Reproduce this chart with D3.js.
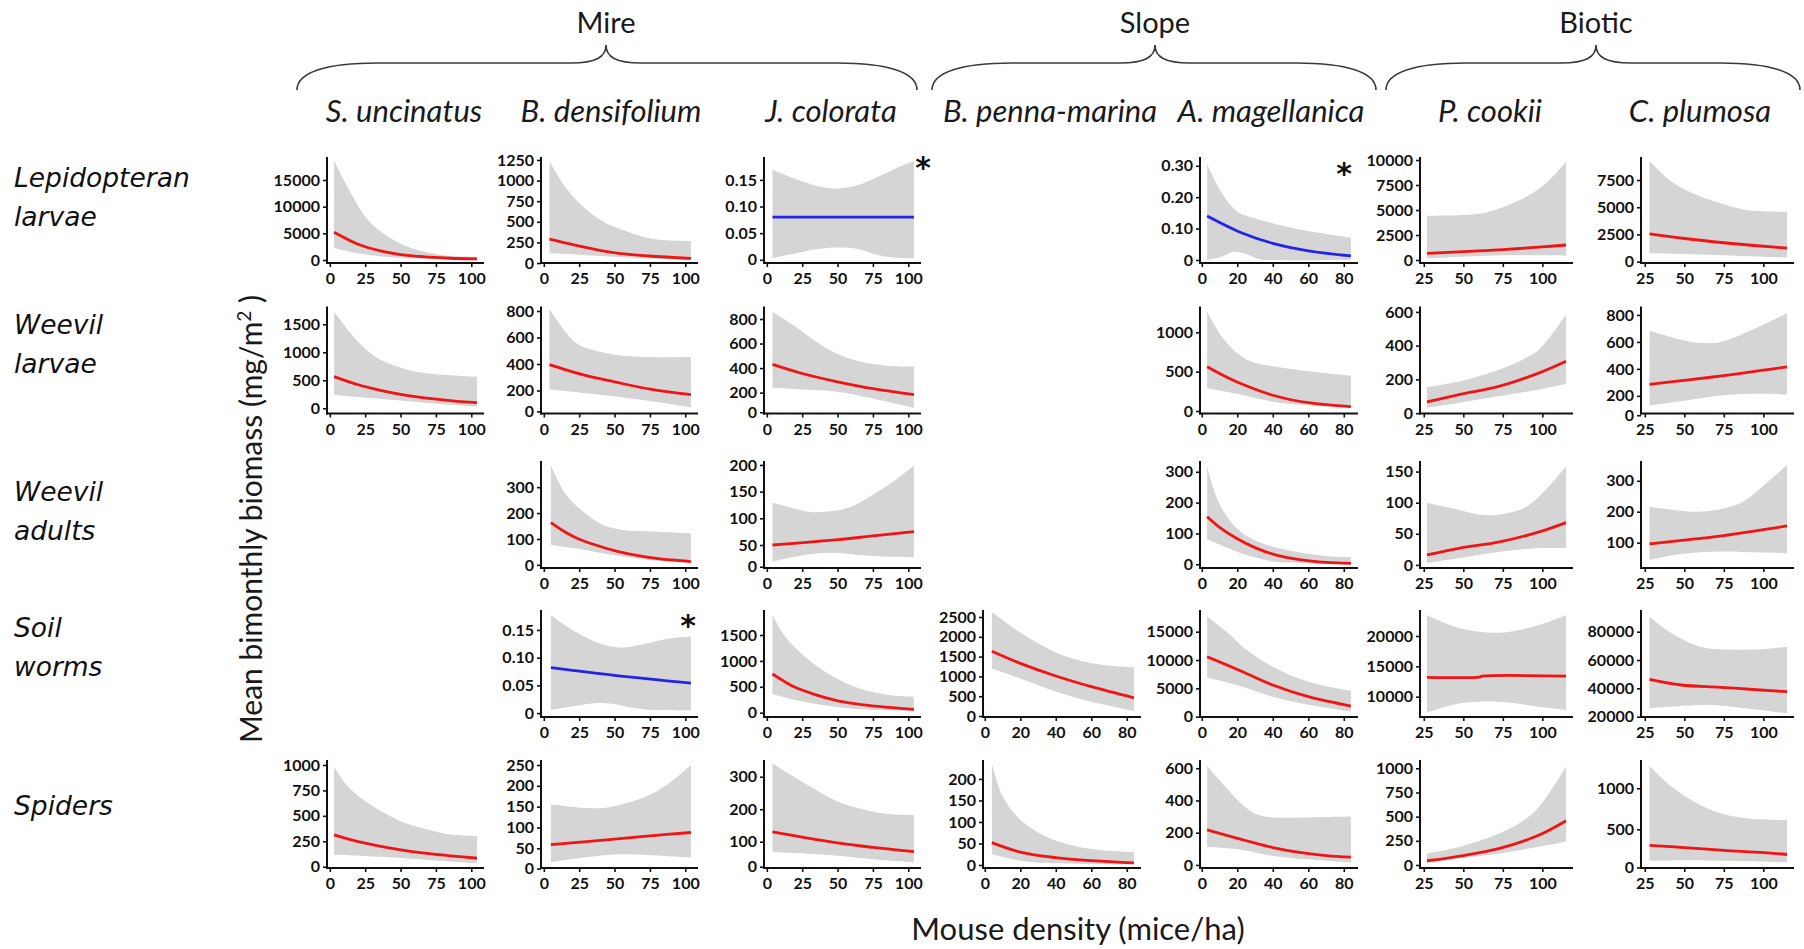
<!DOCTYPE html>
<html>
<head>
<meta charset="utf-8">
<script src="https://cdn.jsdelivr.net/npm/d3@7"></script>
<style>
  body { margin: 0; background: #fff; }
  svg { display: block; }
  .tick text { font-family: Lato, "Liberation Sans", sans-serif; font-weight: 700; font-size: 16px; fill: #111; }
  .tick line { stroke: #111; stroke-width: 1.6; }
</style>
</head>
<body>
<svg id="chart" width="1804" height="949"></svg>
<script>
// ---------------- categories ----------------
const habitats = ["Mire", "Slope", "Biotic"];
const plants = ["S. uncinatus", "B. densifolium", "J. colorata", "B. penna-marina", "A. magellanica", "P. cookii", "C. plumosa"];
const plantHabitat = [0, 0, 0, 1, 1, 2, 2];
const taxa = [["Lepidopteran", "larvae"], ["Weevil", "larvae"], ["Weevil", "adults"], ["Soil", "worms"], ["Spiders"]];

// x tick labels per habitat
const xTicksMire = [0, 25, 50, 75, 100];
const xTicksSlope = [0, 20, 40, 60, 80];
const xTicksBiotic = [25, 50, 75, 100];

// ---------------- fitted biomass vs mouse density ----------------
// fit = model prediction, lo/hi = confidence band, ticks = y tick labels
// Lepidopteran larvae
const P11 = { fit: [[3,5200],[20,2950],[35,1750],[50,1000],[70,540],[85,330],[104,200]],
              hi:  [[3,18700],[13,13400],[27,7500],[41,4400],[55,2500],[69,1440],[83,800],[104,620]],
              lo:  [[3,2250],[20,1250],[35,700],[50,380],[70,180],[85,100],[104,50]],
              ticks: [0, 5000, 10000, 15000] };
const P12 = { fit: [[4,290],[22,218],[48,130],[74,85],[104,57]],
              hi:  [[4,1238],[15,926],[29,664],[42,501],[56,400],[70,319],[84,279],[104,267]],
              lo:  [[4,118],[25,100],[49,76],[75,55],[104,36]],
              ticks: [0, 250, 500, 750, 1000, 1250] };
const P13 = { fit: [[4,0.08],[54,0.08],[104,0.08]],
              hi:  [[4,0.169],[20,0.152],[35,0.139],[50,0.134],[65,0.141],[80,0.158],[95,0.176],[104,0.186]],
              lo:  [[4,0.003],[20,0.012],[35,0.020],[50,0.023],[65,0.020],[80,0.008],[95,0.003],[104,0.003]],
              ticks: [0, 0.05, 0.10, 0.15], flagged: true };
const P15 = { fit: [[3,0.14],[23,0.085],[40,0.053],[60,0.029],[84,0.013]],
              hi:  [[3,0.305],[12,0.207],[20,0.154],[27,0.138],[37,0.122],[42,0.114],[60,0.092],[84,0.071]],
              lo:  [[3,0.0],[11,0.010],[18,0.026],[23,0.022],[28,0.012],[33,0.002],[40,0],[84,0]],
              ticks: [0, 0.10, 0.20, 0.30], flagged: true };
const P16 = { fit: [[27,670],[50,830],[75,1040],[100,1310],[115,1500]],
              hi:  [[27,4430],[51,4500],[63,4700],[73,5170],[88,6170],[101,7500],[115,9830]],
              lo:  [[27,170],[50,330],[70,450],[90,470],[115,430]],
              ticks: [0, 2500, 5000, 7500, 10000] };
const P17 = { fit: [[28,2550],[50,2130],[75,1740],[100,1420],[115,1250]],
              hi:  [[28,9250],[42,7350],[58,6125],[73,5360],[89,4750],[115,4590]],
              lo:  [[28,770],[60,650],[90,500],[115,370]],
              ticks: [0, 2500, 5000, 7500] };
// Weevil larvae
const P21 = { fit: [[3,565],[20,420],[35,325],[50,250],[70,178],[85,138],[104,100]],
              hi:  [[3,1725],[20,1189],[34,893],[48,743],[62,650],[83,595],[104,564]],
              lo:  [[3,237],[25,190],[46,150],[70,95],[104,30]],
              ticks: [0, 500, 1000, 1500] };
const P22 = { fit: [[4,395],[15,358],[30,312],[50,265],[75,210],[104,160]],
              hi:  [[4,815],[22,565],[35,505],[49,472],[67,455],[104,452]],
              lo:  [[4,207],[25,180],[49,145],[75,100],[104,39]],
              ticks: [0, 200, 400, 600, 800] };
const P23 = { fit: [[4,430],[25,356],[50,288],[75,232],[104,180]],
              hi:  [[4,859],[20,740],[35,615],[48,525],[65,455],[85,420],[104,414]],
              lo:  [[4,240],[25,225],[48,210],[75,140],[104,45]],
              ticks: [0, 200, 400, 600, 800] };
const P25 = { fit: [[3,563],[15,420],[25,320],[40,200],[60,105],[84,55]],
              hi:  [[3,1262],[12,924],[20,733],[28,626],[42,563],[65,492],[84,449]],
              lo:  [[3,288],[23,203],[40,118],[60,70],[84,42]],
              ticks: [0, 500, 1000] };
const P26 = { fit: [[27,67],[48,111],[73,160],[98,239],[115,308]],
              hi:  [[27,154],[48,189],[73,259],[88,320],[98,377],[115,584]],
              lo:  [[27,32],[48,62],[73,101],[98,140],[115,174]],
              ticks: [0, 200, 400, 600] };
const P27 = { fit: [[28,285],[50,315],[75,350],[100,390],[115,415]],
              hi:  [[28,682],[42,635],[58,593],[73,600],[89,670],[115,812]],
              lo:  [[28,100],[50,150],[75,205],[100,215],[115,210]],
              ticks: [0, 200, 400, 600, 800] };
// Weevil adults
const P32 = { fit: [[5,163],[15,127],[25,99],[40,71],[55,48],[74,29],[90,19],[104,13]],
              hi:  [[5,386],[15,277],[29,200],[42,154],[56,135],[77,129],[104,122]],
              lo:  [[5,77],[22,64],[48,39],[74,19],[104,7]],
              ticks: [0, 100, 200, 300] };
const P33 = { fit: [[4,50],[50,60],[75,67],[104,75]],
              hi:  [[4,129],[20,118],[31,112],[48,114],[60,122],[76,146],[90,170],[104,199]],
              lo:  [[4,12],[25,26],[45,32],[65,27],[85,23],[104,22]],
              ticks: [0, 50, 100, 150, 200] };
const P35 = { fit: [[3,154],[10,120],[20,83],[30,54],[40,33],[55,15],[70,6],[84,3]],
              hi:  [[3,316],[9,208],[17,133],[26,89],[37,62],[53,41],[70,27],[84,23]],
              lo:  [[3,81],[15,52],[28,25],[42,8],[60,3],[84,2]],
              ticks: [0, 100, 200, 300] };
const P36 = { fit: [[27,16],[48,27],[73,37],[98,53],[115,68]],
              hi:  [[27,100],[48,88],[63,80],[73,81],[88,91],[98,110],[115,158]],
              lo:  [[27,3],[48,11],[73,21],[98,27],[115,27]],
              ticks: [0, 50, 100, 150] };
const P37 = { fit: [[28,96],[50,108],[75,123],[100,142],[115,154]],
              hi:  [[28,216],[48,203],[58,200],[73,208],[88,235],[98,275],[115,351]],
              lo:  [[28,44],[48,63],[73,71],[98,68],[115,66]],
              ticks: [100, 200, 300] };
// Soil worms
const P42 = { fit: [[5,0.082],[50,0.068],[104,0.054]],
              hi:  [[5,0.177],[22,0.147],[40,0.125],[55,0.118],[70,0.124],[85,0.133],[104,0.138]],
              lo:  [[5,0.006],[22,0.013],[36,0.018],[48,0.017],[62,0.010],[74,0.006],[104,0.005]],
              ticks: [0, 0.05, 0.10, 0.15], flagged: true };
const P43 = { fit: [[4,747],[12,610],[20,490],[33,360],[48,245],[62,175],[76,129],[104,66]],
              hi:  [[4,1886],[13,1467],[27,1081],[45,728],[65,471],[86,342],[104,309]],
              lo:  [[4,361],[20,245],[48,116],[76,52],[104,33]],
              ticks: [0, 500, 1000, 1500] };
const P44 = { fit: [[4,1636],[20,1330],[40,1010],[60,740],[84,460]],
              hi:  [[4,2626],[22,2050],[43,1550],[65,1300],[84,1230]],
              lo:  [[4,1200],[20,950],[40,620],[60,360],[84,130]],
              ticks: [0, 500, 1000, 1500, 2000, 2500] };
const P45 = { fit: [[3,10588],[23,7941],[40,5594],[60,3529],[84,1888]],
              hi:  [[3,17646],[15,14717],[23,12353],[40,8823],[60,6176],[84,4588]],
              lo:  [[3,6900],[23,5300],[40,3500],[60,2100],[84,900]],
              ticks: [0, 5000, 10000, 15000] };
const P46 = { fit: [[27,13200],[60,13220],[62,13380],[115,13400]],
              hi:  [[27,23460],[48,21270],[73,20540],[98,21810],[115,23460]],
              lo:  [[27,7364],[48,8913],[73,9176],[98,8352],[115,7809]],
              ticks: [10000, 15000, 20000] };
const P47 = { fit: [[28,46394],[48,42370],[73,40750],[98,38840],[115,37640]],
              hi:  [[28,90570],[42,78860],[60,69400],[73,67560],[98,67560],[115,69400]],
              lo:  [[28,25900],[60,28200],[73,27800],[98,24700],[115,22300]],
              ticks: [20000, 40000, 60000, 80000] };
// Spiders
const P51 = { fit: [[3,312],[20,246],[48,171],[72,125],[104,83]],
              hi:  [[3,980],[14,770],[27,625],[48,460],[65,380],[83,322],[104,302]],
              lo:  [[3,118],[25,105],[48,88],[75,60],[104,32]],
              ticks: [0, 250, 500, 750, 1000] };
const P52 = { fit: [[5,59],[50,72],[75,80],[104,88]],
              hi:  [[5,155],[35,146],[48,150],[74,177],[90,210],[104,250]],
              lo:  [[5,16],[30,28],[50,35],[75,33],[104,27]],
              ticks: [0, 50, 100, 150, 200, 250] };
const P53 = { fit: [[4,130],[50,95],[75,77],[104,60]],
              hi:  [[4,341],[31,269],[48,228],[65,203],[83,187],[104,182]],
              lo:  [[4,58],[30,52],[48,45],[75,30],[104,18]],
              ticks: [0, 100, 200, 300] };
const P54 = { fit: [[4,52],[20,30],[40,17],[60,10],[84,5]],
              hi:  [[4,235],[10,160],[20,105],[35,65],[50,45],[65,35],[84,30]],
              lo:  [[4,25],[20,10],[40,4],[84,1]],
              ticks: [0, 50, 100, 150, 200] };
const P55 = { fit: [[3,217],[15,180],[25,150],[40,108],[55,78],[70,58],[84,48]],
              hi:  [[3,614],[15,465],[23,372],[31,315],[40,295],[60,295],[84,300]],
              lo:  [[3,113],[23,93],[40,56],[60,35],[84,14]],
              ticks: [0, 200, 400, 600] };
const P56 = { fit: [[27,44],[48,93],[73,173],[98,310],[115,458]],
              hi:  [[27,121],[48,189],[73,328],[88,460],[98,603],[115,1017]],
              lo:  [[27,25],[48,70],[73,120],[98,190],[115,240]],
              ticks: [0, 250, 500, 750, 1000] };
const P57 = { fit: [[28,290],[50,260],[75,225],[100,195],[115,170]],
              hi:  [[28,1272],[42,1020],[58,817],[73,695],[89,634],[115,613]],
              lo:  [[28,90],[60,95],[90,80],[115,67]],
              ticks: [0, 500, 1000] };

const panels = [
  ["P11",0,0,P11],["P12",0,1,P12],["P13",0,2,P13],["P15",0,4,P15],["P16",0,5,P16],["P17",0,6,P17],
  ["P21",1,0,P21],["P22",1,1,P22],["P23",1,2,P23],["P25",1,4,P25],["P26",1,5,P26],["P27",1,6,P27],
  ["P32",2,1,P32],["P33",2,2,P33],["P35",2,4,P35],["P36",2,5,P36],["P37",2,6,P37],
  ["P42",3,1,P42],["P43",3,2,P43],["P44",3,3,P44],["P45",3,4,P45],["P46",3,5,P46],["P47",3,6,P47],
  ["P51",4,0,P51],["P52",4,1,P52],["P53",4,2,P53],["P54",4,3,P54],["P55",4,4,P55],["P56",4,5,P56],["P57",4,6,P57]
];

// ---------------- layout ----------------
const colLeft  = [327, 541, 764, 983, 1200, 1420, 1641];
const colWidth = [157, 157, 157, 158, 158, 153, 153];
const headerX  = [404, 611, 831, 1050, 1271, 1490, 1700];
const rowTop    = [157, 306.5, 461, 610, 760];
const rowHeight = [106, 107, 107, 107, 108];
const rowLabelY = [187, 334, 501, 637, 815];
const xDomains = [[-2, 109], [-1, 88], [22.6, 119.4]];
const xTickSets = [xTicksMire, xTicksSlope, xTicksBiotic];

// y scale per panel: domain stops and their height fractions (0 = x axis, 1 = top)
const yLayout = {
  P11: { dom: [-560, 19310], frac: [0, 1] },
  P12: { dom: [0, 1286], frac: [0, 1] },
  P13: { dom: [-0.006, 0.193], frac: [0, 1] },
  P15: { dom: [-0.0095, 0.328], frac: [0, 1] },
  P16: { dom: [-300, 10300], frac: [0, 1] },
  P17: { dom: [-120, 9614], frac: [0, 1] },
  P21: { dom: [-93, 1818], frac: [0, 1] },
  P22: { dom: [0, 200, 800], frac: [0.02, 0.215, 0.958] },
  P23: { dom: [0, 200, 800], frac: [0.012, 0.195, 0.883] },
  P25: { dom: [-32, 1328], frac: [0, 1] },
  P26: { dom: [-2, 632], frac: [0, 1] },
  P27: { dom: [0, 200, 800], frac: [-0.016, 0.165, 0.921] },
  P32: { dom: [-12, 401], frac: [0, 1] },
  P33: { dom: [0, 50, 200], frac: [0.012, 0.215, 0.963] },
  P35: { dom: [-12, 335], frac: [0, 1] },
  P36: { dom: [-5, 167], frac: [0, 1] },
  P37: { dom: [18, 364], frac: [0, 1] },
  P42: { dom: [-0.007, 0.186], frac: [0, 1] },
  P43: { dom: [-83, 1983], frac: [0, 1] },
  P44: { dom: [-25, 2677], frac: [0, 1] },
  P45: { dom: [-53, 18830], frac: [0, 1] },
  P46: { dom: [6656, 24283], frac: [0, 1] },
  P47: { dom: [19790, 95300], frac: [0, 1] },
  P51: { dom: [-13, 1049], frac: [0, 1] },
  P52: { dom: [0, 50, 250], frac: [-0.005, 0.182, 0.954] },
  P53: { dom: [0, 100, 300], frac: [0.012, 0.2435, 0.845] },
  P54: { dom: [-7, 244], frac: [0, 1] },
  P55: { dom: [-19, 651], frac: [0, 1] },
  P56: { dom: [-31, 1086], frac: [0, 1] },
  P57: { dom: [0, 500, 1000], frac: [0.005, 0.358, 0.738] }
};
// asterisk offsets from each flagged panel's top-right corner
const starOffset = { P13: [2, 6], P15: [-14, 12], P42: [-10, 11] };

const COLORS = { band: "#d5d5d5", fit: "#f01414", flaggedFit: "#2424e8", axis: "#111" };
const TEXT_FONT = "Lato, 'Open Sans', sans-serif";

const svg = d3.select("#chart");
const fmt = v => v === 0 ? "0" : (Math.abs(v) < 1 ? v.toFixed(2) : String(v));

function drawPanel([id, row, col, d]) {
  const hab = plantHabitat[col];
  const left = colLeft[col], w = colWidth[col];
  const top = rowTop[row], h = rowHeight[row], bottom = top + h;
  const L = yLayout[id];
  const x = d3.scaleLinear().domain(xDomains[hab]).range([left, left + w]);
  const y = d3.scaleLinear().domain(L.dom).range(L.frac.map(f => bottom - f * h));
  const g = svg.append("g").attr("class", "panel");

  const line = d3.line().x(p => x(p[0])).y(p => y(p[1])).curve(d3.curveCatmullRom.alpha(0.5));
  const upper = line(d.hi);
  const lower = line(d.lo.slice().reverse());
  g.append("path").attr("d", upper + "L" + lower.slice(1) + "Z").attr("fill", COLORS.band);
  g.append("path").attr("d", line(d.fit)).attr("fill", "none")
    .attr("stroke", d.flagged ? COLORS.flaggedFit : COLORS.fit)
    .attr("stroke-width", 2.8).attr("stroke-linecap", "butt");

  g.append("g").attr("transform", `translate(0,${bottom})`)
    .call(d3.axisBottom(x).tickValues(xTickSets[hab]).tickSize(4).tickPadding(6))
    .call(a => a.select(".domain").remove());
  g.append("g").attr("transform", `translate(${left},0)`)
    .call(d3.axisLeft(y).tickValues(d.ticks).tickFormat(fmt).tickSize(4).tickPadding(3))
    .call(a => a.select(".domain").remove());

  // axis lines
  g.append("line").attr("x1", left).attr("x2", left).attr("y1", top).attr("y2", bottom + 1)
    .attr("stroke", COLORS.axis).attr("stroke-width", 2);
  g.append("line").attr("x1", left - 1).attr("x2", left + w).attr("y1", bottom).attr("y2", bottom)
    .attr("stroke", COLORS.axis).attr("stroke-width", 2);

  if (d.flagged) {
    const [dx, dy] = starOffset[id];
    g.append("text").attr("x", left + w + dx).attr("y", top + dy + 15)
      .attr("text-anchor", "middle").attr("font-family", "'DejaVu Sans', sans-serif")
      .attr("font-weight", 700).attr("font-size", 30).attr("fill", "#111").text("*");
  }
}
panels.forEach(drawPanel);

// ---------------- habitat braces and headings ----------------
const braceSpans = [[297, 917, 606], [932, 1376, 1155], [1386, 1800, 1596]];
const braceY = { end: 90, line: 63, peak: 45 };
function bracePath([l, r, c]) {
  const { end, line, peak } = braceY;
  return `M${l},${end} C${l},${end - 18} ${l + 30},${line} ${l + 80},${line} L${c - 35},${line} ` +
         `C${c - 10},${line} ${c},${line - 6} ${c},${peak} ` +
         `C${c},${line - 6} ${c + 10},${line} ${c + 35},${line} L${r - 80},${line} ` +
         `C${r - 30},${line} ${r},${end - 18} ${r},${end}`;
}
braceSpans.forEach((s, i) => {
  svg.append("path").attr("d", bracePath(s)).attr("fill", "none")
    .attr("stroke", "#3a3a3a").attr("stroke-width", 1.6);
  svg.append("text").attr("x", s[2]).attr("y", 33).attr("text-anchor", "middle")
    .attr("font-family", TEXT_FONT).attr("font-size", 29).attr("fill", "#1a1a1a").text(habitats[i]);
});

// plant species column headings
plants.forEach((p, i) => {
  svg.append("text").attr("x", headerX[i]).attr("y", 122)
    .attr("text-anchor", "middle").attr("font-family", TEXT_FONT).attr("font-style", "italic")
    .attr("font-size", 31).attr("fill", "#1a1a1a").text(p);
});

// taxon row labels
taxa.forEach((t, i) => {
  const txt = svg.append("text").attr("font-family", "'DejaVu Sans', Verdana, sans-serif")
    .attr("font-style", "italic").attr("font-size", 26.5).attr("fill", "#111");
  t.forEach((w, k) => txt.append("tspan").attr("x", 14).attr("y", rowLabelY[i] + k * 39).text(w));
});

// axis titles
const yTitle = svg.append("text").attr("transform", "translate(262,519) rotate(-90)")
  .attr("text-anchor", "middle").attr("font-family", TEXT_FONT).attr("font-size", 30).attr("fill", "#1a1a1a");
yTitle.append("tspan").text("Mean bimonthly biomass (mg/m");
yTitle.append("tspan").attr("baseline-shift", "super").attr("font-size", 19).text("2");
yTitle.append("tspan").text(" )");

svg.append("text").attr("x", 1078).attr("y", 940).attr("text-anchor", "middle")
  .attr("font-family", TEXT_FONT).attr("font-size", 31).attr("fill", "#1a1a1a").text("Mouse density (mice/ha)");
</script>
</body>
</html>
